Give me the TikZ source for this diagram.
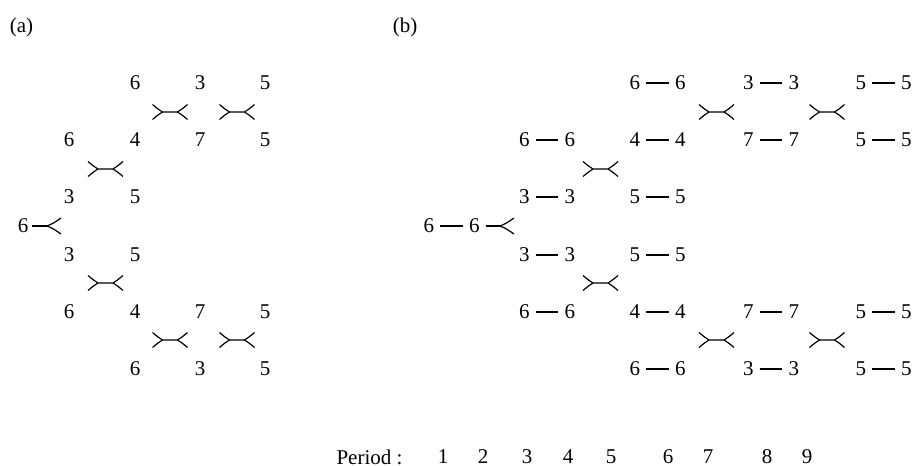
\documentclass[tikz,border=0pt]{standalone}
\usepackage{fontspec}
\setmainfont{Liberation Serif}
\usetikzlibrary{positioning}

\begin{document}
\begin{tikzpicture}[
    x=0.5pt, y=-0.5pt,
    every node/.style={font=\fontsize{10.5}{12}\selectfont, inner sep=0pt},
    num/.style={inner sep=0pt},
    bond/.style={line width=0.55pt, shorten <=3pt, shorten >=3pt},
    stem/.style={line width=0.7pt},
    arm/.style={line width=0.6pt},
    % two-in two-out vertex  >-<
    scat/.pic={
      \draw[arm] (-17.5,-7.5) .. controls (-11.5,-2.5) .. (-7.5,0) -- (7.5,0) .. controls (11.5,-2.5) .. (17.5,-7.5);
      \draw[arm] (-17.5,7.5) .. controls (-11.5,2.5) .. (-7.5,0);
      \draw[arm] (7.5,0) .. controls (11.5,2.5) .. (17.5,7.5);
    },
    % one-in two-out vertex  -<
    split/.pic={
      \draw[arm] (14,-8) .. controls (6,-2.5) .. (0,0) .. controls (6,2.5) .. (14,8);
    },
    % linked pair  d - d
    pair/.pic={
      \node[num] (-l) at (-22.75,0) {#1};
      \node[num] (-r) at (22.75,0) {#1};
      \draw[bond] (-l) -- (-r);
    },
  ]
  \useasboundingbox (0,0) rectangle (916,466);

  % Panel (a)
  \node (la) at (21.5,27) {(a)};

  \node[num] (a0) at (23,226) {6};
  \coordinate (a-split) at (47,226);
  \draw[stem, shorten <=1.5pt] (a0) -- (a-split);
  \pic (as0) at (a-split) {split};

  \node[num] (a1u) at (69,197) {3};
  \node[num] (a1d) at (69,255) {3};
  \node[num] (a2u) at (135,197) {5};
  \node[num] (a2d) at (135,255) {5};
  \node[num] (a3u) at (69,140) {6};
  \node[num] (a3d) at (69,312) {6};
  \node[num] (a4u) at (135,140) {4};
  \node[num] (a4d) at (135,312) {4};
  \node[num] (a5u) at (135,83) {6};
  \node[num] (a5d) at (135,369) {6};
  \node[num] (a6u) at (200,83) {3};
  \node[num] (a6d) at (200,369) {3};
  \node[num] (a7u) at (200,140) {7};
  \node[num] (a7d) at (200,312) {7};
  \node[num] (a8u) at (265,83) {5};
  \node[num] (a8d) at (265,369) {5};
  \node[num] (a9u) at (265,140) {5};
  \node[num] (a9d) at (265,312) {5};

  \pic (as1) at (105.5,169) {scat};
  \pic (as2) at (105.5,283) {scat};
  \pic (as3) at (170,112) {scat};
  \pic (as4) at (237,112) {scat};
  \pic (as5) at (170,340) {scat};
  \pic (as6) at (237,340) {scat};

  % Panel (b)
  \node (lb) at (405,27) {(b)};

  \pic (b0) at (451.5,226) {pair=6};
  \coordinate (b-split) at (500,226);
  \draw[stem, shorten <=3pt] (b0-r) -- (b-split);
  \pic (bs0) at (b-split) {split};

  \pic (bA1) at (547,197) {pair=3};
  \pic (bA2) at (547,255) {pair=3};
  \pic (bA3) at (547,140) {pair=6};
  \pic (bA4) at (547,312) {pair=6};
  \pic (bB1) at (657.5,197) {pair=5};
  \pic (bB2) at (657.5,255) {pair=5};
  \pic (bB3) at (657.5,140) {pair=4};
  \pic (bB4) at (657.5,312) {pair=4};
  \pic (bB5) at (657.5,83) {pair=6};
  \pic (bB6) at (657.5,369) {pair=6};
  \pic (bC1) at (771,140) {pair=7};
  \pic (bC2) at (771,312) {pair=7};
  \pic (bC3) at (771,83) {pair=3};
  \pic (bC4) at (771,369) {pair=3};
  \pic (bD1) at (883.5,140) {pair=5};
  \pic (bD2) at (883.5,312) {pair=5};
  \pic (bD3) at (883.5,83) {pair=5};
  \pic (bD4) at (883.5,369) {pair=5};

  \pic (bs1) at (600.5,169) {scat};
  \pic (bs2) at (600.5,283) {scat};
  \pic (bs3) at (716.5,112) {scat};
  \pic (bs4) at (827,112) {scat};
  \pic (bs5) at (716.5,340) {scat};
  \pic (bs6) at (827,340) {scat};

  % Period scale
  \node (period) at (369.5,457) {Period :};
  \node (p1) at (443,457) {1};
  \node (p2) at (483,457) {2};
  \node (p3) at (527,457) {3};
  \node (p4) at (568,457) {4};
  \node (p5) at (611,457) {5};
  \node (p6) at (668,457) {6};
  \node (p7) at (708,457) {7};
  \node (p8) at (767,457) {8};
  \node (p9) at (807,457) {9};
\end{tikzpicture}
\end{document}
